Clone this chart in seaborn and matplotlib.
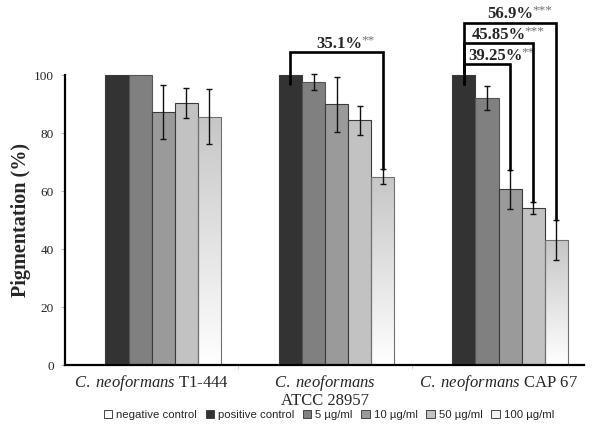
import numpy as np
import pandas as pd
import matplotlib
matplotlib.use("Agg")
import matplotlib.pyplot as plt
import seaborn as sns
from matplotlib.patches import Patch
from matplotlib.colors import LinearSegmentedColormap

# data
strains = ["T1-444", "ATCC 28957", "CAP 67"]
strain_labels = [r"$\mathit{C.\ neoformans}$ T1-444",
                 r"$\mathit{C.\ neoformans}$" + "\nATCC 28957",
                 r"$\mathit{C.\ neoformans}$ CAP 67"]
treatments = ["negative control", "positive control", "5 µg/ml",
              "10 µg/ml", "50 µg/ml", "100 µg/ml"]

t1_vals = [0, 100, 100, 87.3, 90.3, 85.7]
atcc_vals = [0, 100, 97.8, 90.0, 84.5, 65.0]
cap_vals = [0, 100, 92.2, 60.6, 54.2, 43.1]

t1_err = [0, 0, 0, 9.3, 5.2, 9.4]
atcc_err = [0, 0, 2.8, 9.4, 5.0, 2.5]
cap_err = [0, 0, 4.1, 6.7, 2.0, 6.9]

# significance brackets: strain index, treatment index, bracket height, label, stars
br_strain = [1, 2, 2, 2]
br_treat = [5, 3, 4, 5]
br_height = [107.9, 103.9, 111.0, 118.2]
br_label = ["35.1%", "39.25%", "45.85%", "56.9%"]
br_stars = ["**", "**", "***", "***"]
label_dx = [2, 6, 0, 0]  # small nudges (points) for the bracket labels

colors = ["white", "#333333", "#808080", "#9a9a9a", "#c2c2c2", "white"]

rows = []
for s, vals, errs in zip(strains, [t1_vals, atcc_vals, cap_vals], [t1_err, atcc_err, cap_err]):
    for t, v, e in zip(treatments, vals, errs):
        rows.append({"strain": s, "treatment": t, "value": v, "err": e})
df = pd.DataFrame(rows)

sns.set_style("white")
plt.rcParams["font.family"] = ["Liberation Serif", "DejaVu Serif"]
plt.rcParams["mathtext.fontset"] = "custom"
plt.rcParams["mathtext.rm"] = "Liberation Serif"
plt.rcParams["mathtext.it"] = "Liberation Serif:italic"

fig = plt.figure(figsize=(6, 4.42), dpi=100)
ax = fig.add_axes([0.1083, 0.1742, 0.8642, 0.8193])

sns.barplot(data=df, x="strain", y="value", hue="treatment", order=strains,
            hue_order=treatments, palette=dict(zip(treatments, colors)),
            errorbar=None, width=0.8, gap=0, edgecolor="#3a3a3a",
            linewidth=0.8, legend=False, ax=ax)
bar_conts = list(ax.containers)
for p in bar_conts[2]:
    p.set_edgecolor("#555555")

# gradient fill for the 100 µg/ml bars
grad = LinearSegmentedColormap.from_list("g", ["white", "#c6c6c6"])
gimg = np.linspace(0, 1, 256).reshape(-1, 1)
for p in bar_conts[5]:
    p.set_facecolor("none")
    p.set_edgecolor("#707070")
    x0, w, h = p.get_x(), p.get_width(), p.get_height()
    im = ax.imshow(gimg, cmap=grad, origin="lower", aspect="auto",
                   extent=[x0, x0 + w, 0, h], zorder=0.9)
    im.set_clip_path(p)

# error bars
centers = {}
for ti, cont in enumerate(bar_conts):
    for si, p in enumerate(cont):
        cx = p.get_x() + p.get_width() / 2
        centers[(si, ti)] = cx
        e = df[(df.strain == strains[si]) & (df.treatment == treatments[ti])]["err"].iloc[0]
        if e > 0:
            ax.errorbar(cx, p.get_height(), yerr=e, color="#111111", lw=1,
                        capsize=2.5, capthick=1, zorder=3)

# brackets
for si, ti, yb, lab, st, dx in zip(br_strain, br_treat, br_height, br_label, br_stars, label_dx):
    xl = centers[(si, 1)]
    xr = centers[(si, ti)]
    vals = df[(df.strain == strains[si]) & (df.treatment == treatments[ti])]
    ytop = vals["value"].iloc[0] + vals["err"].iloc[0]
    ax.plot([xl, xl, xr, xr], [97, yb, yb, ytop], color="black", lw=1.9,
            zorder=4, solid_joinstyle="miter")
    txt = ax.annotate(lab, xy=((xl + xr) / 2, yb), xytext=(dx, 0.3),
                      textcoords="offset points", ha="center", va="bottom",
                      fontsize=12, fontweight="bold", zorder=5)
    ax.annotate(st, xy=(1, 1), xycoords=txt, xytext=(-0.8, 1.2),
                textcoords="offset points", ha="left", va="top",
                fontsize=9.5, color="#707070")

ax.set_xlim(-0.5, 2.49)
ax.set_ylim(0, 125)
ax.set_yticks([0, 20, 40, 60, 80, 100])
ax.tick_params(axis="y", labelsize=9.5, length=3, color="#bbbbbb", pad=5, left=True)
ax.set_xticks([0, 1, 2])
ax.set_xticklabels(strain_labels, fontsize=12, linespacing=0.95)
ax.tick_params(axis="x", length=0, pad=6)
ax.set_xticks([0.5, 1.5], minor=True)
ax.tick_params(axis="x", which="minor", length=3, color="#cccccc", bottom=True)

ax.set_xlabel("")
ax.set_ylabel("Pigmentation (%)", fontsize=14.5, fontweight="bold")
ax.yaxis.set_label_coords(-0.065, 0.4)

for side in ["top", "right"]:
    ax.spines[side].set_visible(False)
ax.spines["left"].set_bounds(0, 100)
ax.spines["left"].set_linewidth(1.6)
ax.spines["left"].set_color("black")
ax.spines["bottom"].set_linewidth(1.6)
ax.spines["bottom"].set_color("black")

leg_cols = ["white", "#333333", "#808080", "#9a9a9a", "#c2c2c2", "#f2f2f2"]
handles = [Patch(facecolor=c, edgecolor="#444444", linewidth=0.7) for c in leg_cols]
fig.legend(handles, treatments, loc="center", bbox_to_anchor=(0.548, 0.061),
           ncol=6, frameon=False, handlelength=0.75, handleheight=0.75,
           handletextpad=0.35, columnspacing=0.75,
           prop={"family": "Liberation Sans", "size": 8.2})

fig.savefig("out.png", dpi=100)
